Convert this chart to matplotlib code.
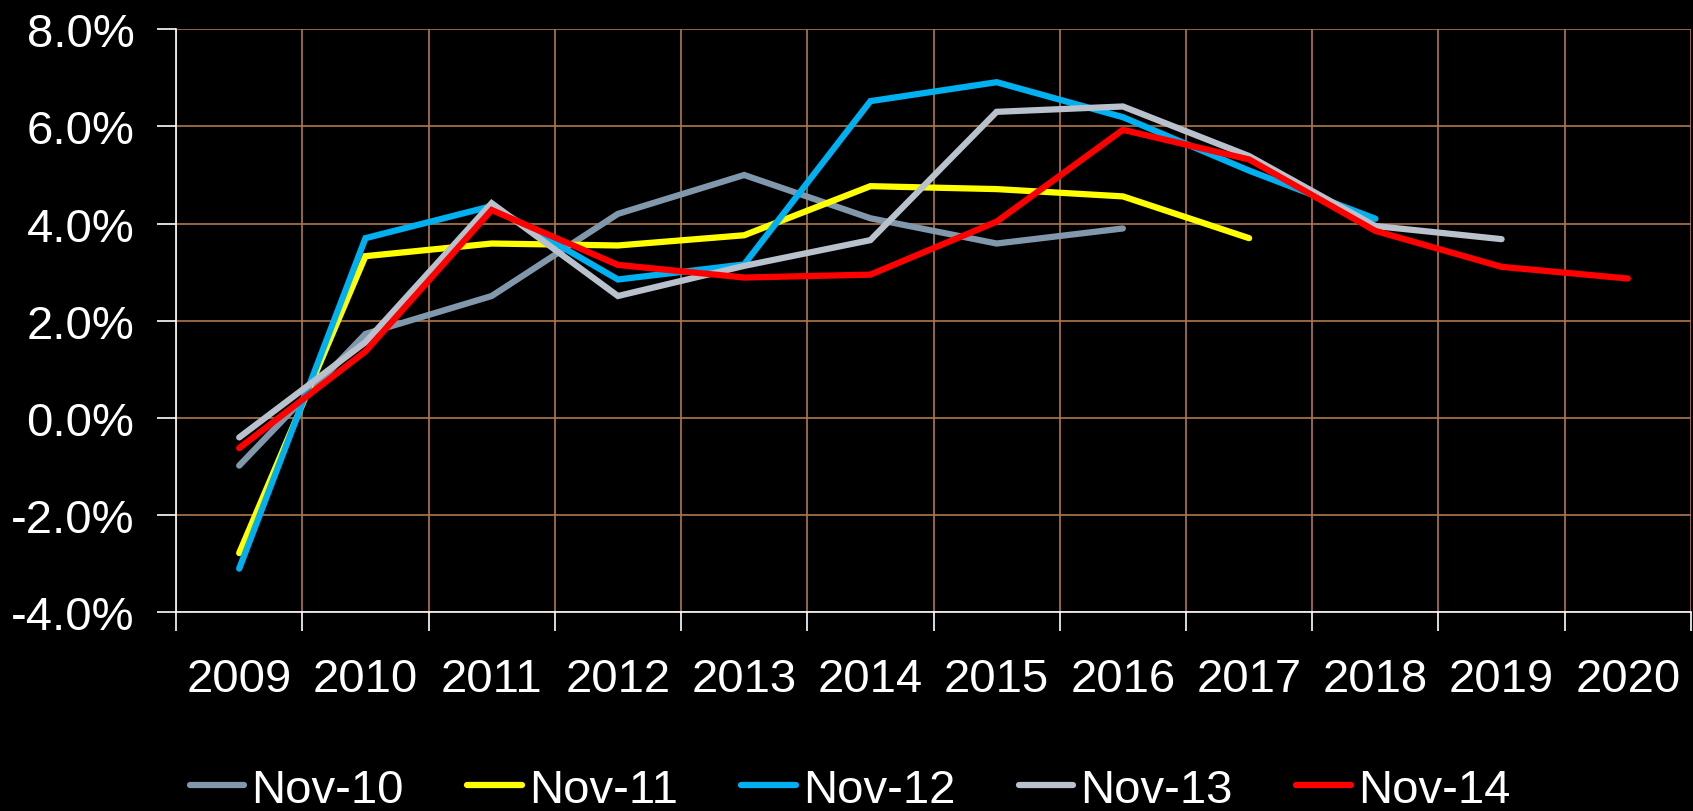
import numpy as np
import matplotlib
matplotlib.use("Agg")
import matplotlib.pyplot as plt
from matplotlib.ticker import FuncFormatter

plt.rcParams.update({
    'font.family': ['Liberation Sans', 'DejaVu Sans'],
    'font.size': 34,
    'text.color': 'white',
})

years = ['2009', '2010', '2011', '2012', '2013', '2014',
         '2015', '2016', '2017', '2018', '2019', '2020']

# forecast vintages, % growth per year
nov_10 = [-0.98, 1.73, 2.51, 4.20, 5.00, 4.11, 3.59, 3.90]
nov_11 = [-2.78, 3.33, 3.59, 3.55, 3.76, 4.77, 4.71, 4.56, 3.70]
nov_12 = [-3.10, 3.70, 4.36, 2.85, 3.16, 6.52, 6.91, 6.19, 5.09, 4.10]
nov_13 = [-0.40, 1.56, 4.42, 2.51, 3.13, 3.66, 6.30, 6.41, 5.39, 3.95, 3.68]
nov_14 = [-0.62, 1.37, 4.28, 3.15, 2.89, 2.95, 4.04, 5.93, 5.32, 3.85, 3.11, 2.87]

series = [('Nov-10', nov_10, '#8097AC'),
          ('Nov-11', nov_11, '#FFFF00'),
          ('Nov-12', nov_12, '#00B0F0'),
          ('Nov-13', nov_13, '#B8C1CC'),
          ('Nov-14', nov_14, '#FF0000')]

fig = plt.figure(figsize=(16.93, 8.12), dpi=100, facecolor='black')
ax = fig.add_axes([0.104, 0.2446, 0.8948, 0.7182], facecolor='black')

for name, vals, col in series:
    x = np.arange(len(vals))
    ax.plot(x, vals, color=col, lw=4.5, label=name,
            solid_capstyle='round', solid_joinstyle='miter')

ax.set_xlim(-0.5, len(years) - 0.5)
ax.set_ylim(-4, 8)
ax.set_yticks(np.arange(-4, 8.1, 2))
ax.yaxis.set_major_formatter(FuncFormatter(lambda v, p: f'{v:.1f}%'))

# boundaries carry ticks and grid, centres carry the labels
ax.set_xticks(np.arange(-0.5, len(years)), minor=False)
ax.set_xticklabels([])
ax.set_xticks(np.arange(len(years)), minor=True)
ax.set_xticklabels(years, minor=True)
ax.tick_params(axis='x', which='major', length=14, width=1.2, color='white')
ax.tick_params(axis='x', which='minor', length=0, pad=32, labelcolor='white')
ax.tick_params(axis='y', length=14, width=1.2, color='white', pad=16, labelcolor='white')

ax.set_axisbelow(True)
ax.grid(True, which='major', color='#B0784C', lw=1.2)
for s in ['top', 'right']:
    ax.spines[s].set_visible(False)
for s in ['left', 'bottom']:
    ax.spines[s].set_color('white')
    ax.spines[s].set_linewidth(1.2)

fig.legend(loc='lower center', bbox_to_anchor=(0.502, -0.053), ncol=5,
           frameon=False, handlelength=1.15, handletextpad=0.15,
           columnspacing=1.35, labelcolor='white')

fig.savefig('out.png', dpi=100, facecolor='black')
